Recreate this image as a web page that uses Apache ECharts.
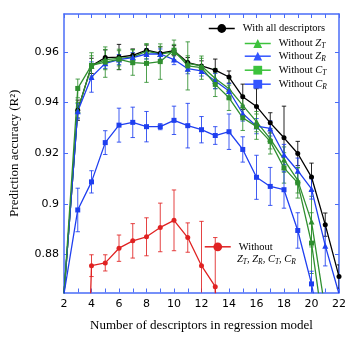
<!DOCTYPE html>
<html><head><meta charset="utf-8">
<script src="https://cdn.jsdelivr.net/npm/echarts@6/dist/echarts.min.js"></script>
<style>html,body{margin:0;padding:0;background:#fff}#c{width:349px;height:342px}</style>
</head><body><div id="c"></div>
<script>
// ---- data ----
const nDesc = [2,3,4,5,6,7,8,9,10,11,12,13,14,15,16,17,18,19,20,21,22];
const allVals = [0.8645,0.937,0.9545,0.9578,0.958,0.9587,0.9607,0.9595,0.9605,0.9558,0.9545,0.9528,0.9501,0.9423,0.9385,0.932,0.9261,0.9199,0.9106,0.8918,0.8713];
const allErr  = [0,0.004,0.003,0.003,0.005,0.0025,0.002,0.0025,0.002,0.002,0.002,0.0044,0.0024,0.005,0.007,0.004,0.0125,0.0048,0.0055,0.0046,0.0046];

const nZT = [2,3,4,5,6,7,8,9,10,11,12,13,14,15,16,17,18,19,20,21];
const ztVals = [0.8645,0.937,0.9545,0.957,0.9575,0.958,0.9603,0.9592,0.96,0.9555,0.9545,0.9495,0.9455,0.9389,0.9325,0.9257,0.9175,0.9093,0.893,0.858];
const ztErr  = [0,0.003,0.004,0.004,0.003,0.003,0.003,0.003,0.003,0.003,0.003,0.004,0.004,0.004,0.004,0.004,0.005,0.005,0.010,0.006];

const nZR = [2,3,4,5,6,7,8,9,10,11,12,13,14,15,16,17,18,19,20,21,22];
const zrVals = [0.8645,0.9366,0.9501,0.9555,0.957,0.9578,0.9592,0.9592,0.957,0.9534,0.9525,0.9485,0.9446,0.9357,0.9307,0.9298,0.9195,0.9131,0.9059,0.8835,0.8645];
const zrErr  = [0,0.003,0.006,0.002,0.002,0.002,0.002,0.002,0.002,0.002,0.002,0.003,0.003,0.003,0.003,0.003,0.004,0.005,0.004,0.008,0];

const nCT = [2,3,4,5,6,7,8,9,10,11,12,13,14,15,16,17,18,19,20,21];
const ctVals = [0.8645,0.9456,0.9547,0.956,0.9571,0.9558,0.9555,0.9562,0.9607,0.9545,0.9538,0.9472,0.9419,0.934,0.9305,0.9247,0.9142,0.9083,0.8845,0.8455];
const ctErr  = [0,0.0037,0.005,0.006,0.004,0.005,0.0075,0.007,0.004,0.0095,0.0046,0.0048,0.005,0.005,0.005,0.005,0.006,0.006,0.012,0.006];

const nCR = [2,3,4,5,6,7,8,9,10,11,12,13,14,15,16,17,18,19,20,21];
const crVals = [0.8645,0.8976,0.9087,0.9242,0.9311,0.9322,0.9305,0.9305,0.933,0.9309,0.9293,0.927,0.9285,0.9215,0.9105,0.9069,0.9056,0.8895,0.8684,0.84];
const crErr  = [0,0.0086,0.0044,0.0047,0.0067,0.006,0.006,0.0012,0.0056,0.0088,0.0052,0.0035,0.007,0.005,0.0087,0.0075,0.0073,0.007,0.005,0];

const nNone = [3,4,5,6,7,8,9,10,11,12,13,14];
const noneVals = [0.70,0.8756,0.8767,0.8825,0.8854,0.887,0.8907,0.8935,0.8867,0.8756,0.8673,0.70];
const noneErr  = [0,0.0043,0.0032,0.0052,0.0068,0.0075,0.0096,0.012,0.0058,0.0175,0.0194,0];

const yTicks = [0.88,0.9,0.92,0.94,0.96];
const xTitle = 'Number of descriptors in regression model';
const yTitle = 'Prediction accuracy (R\u00B2)';

// ---- styling ----
const AX = '#4a6cf7';
const BLACK = '#000000', GREEN = '#2f8f2f', BLUE = '#1f3ff0', RED = '#e02222';
const LGREEN = '#3cc23c', LBLUE = '#3355ff';
const SERIF = 'Liberation Serif';

const names = ['With all descriptors','Without ZT','Without ZR','Without CT','Without CR','Without all'];
const legendText = {
  'With all descriptors': '{p|With all descriptors}',
  'Without ZT': '{p|Without }{i|Z}{s|T}',
  'Without ZR': '{p|Without }{i|Z}{s|R}',
  'Without CT': '{p|Without }{i|C}{s|T}',
  'Without CR': '{p|Without }{i|C}{s|R}',
  'Without all': '{p|Without}'
};
const rich = {
  p: {fontFamily: SERIF, fontSize: 10.5, color: '#000', lineHeight: 14, padding: [0,0,0,3]},
  n: {fontFamily: SERIF, fontSize: 10.5, color: '#000', lineHeight: 14},
  i: {fontFamily: SERIF, fontSize: 10.5, fontStyle: 'italic', color: '#000', lineHeight: 14},
  s: {fontFamily: SERIF, fontSize: 7.5, fontStyle: 'italic', color: '#000', lineHeight: 8, verticalAlign: 'bottom'}
};

function pairs(xs, vs) { return xs.map((x, i) => [x, vs[i]]); }
function lineSeries(name, xs, vs, color, symbol, size) {
  return {
    type: 'line', name: name, data: pairs(xs, vs), symbol: symbol, symbolSize: size,
    itemStyle: {color: color}, lineStyle: {color: color, width: 1.3}, clip: true, z: 3,
    animation: false
  };
}
function errSeries(xs, vs, es, color) {
  const data = [];
  xs.forEach((x, i) => { if (es[i] > 0) data.push([x, vs[i] - es[i], vs[i] + es[i]]); });
  return {
    type: 'custom', data: data, clip: true, z: 2, animation: false, silent: true,
    encode: {x: 0, y: [1, 2]},
    renderItem: function (params, api) {
      const p1 = api.coord([api.value(0), api.value(1)]);
      const p2 = api.coord([api.value(0), api.value(2)]);
      const w = 2.2;
      const st = {stroke: color, lineWidth: 1, opacity: 0.85};
      return {type: 'group', children: [
        {type: 'line', shape: {x1: p1[0], y1: p1[1], x2: p2[0], y2: p2[1]}, style: st},
        {type: 'line', shape: {x1: p1[0]-w, y1: p1[1], x2: p1[0]+w, y2: p1[1]}, style: st},
        {type: 'line', shape: {x1: p2[0]-w, y1: p2[1], x2: p2[0]+w, y2: p2[1]}, style: st}
      ]};
    }
  };
}

function legendAt(name, left, top, color) {
  return {
    data: [{name: name, itemStyle: {color: color}, lineStyle: {color: color, width: 1.5}}],
    left: left, top: top, padding: 0, itemWidth: 26, itemHeight: 11,
    selectedMode: false, formatter: n => legendText[n],
    textStyle: {rich: rich}
  };
}

const axisLine = {show: true, lineStyle: {color: AX, width: 1.5}};
const chart = echarts.init(document.getElementById('c'), null, {renderer: 'canvas'});
chart.setOption({
  animation: false,
  backgroundColor: '#fff',
  grid: {left: 61, right: 10, top: 14, bottom: 49.5},
  xAxis: [
    {type: 'value', min: 2, max: 22, interval: 2, position: 'bottom',
     axisLine: axisLine, splitLine: {show: false},
     axisTick: {show: true, inside: true, length: 4, lineStyle: {color: AX, width: 1}},
     minorTick: {show: true, splitNumber: 2, length: 4, lineStyle: {color: AX, width: 1}},
     axisLabel: {color: '#000', fontFamily: 'DejaVu Sans', fontSize: 11, margin: 6},
     name: xTitle, nameLocation: 'middle', nameGap: 27,
     nameTextStyle: {fontFamily: SERIF, fontSize: 13, color: '#000'}},
    {type: 'value', min: 2, max: 22, interval: 2, position: 'top',
     axisLine: axisLine, splitLine: {show: false},
     axisTick: {show: true, inside: true, length: 4, lineStyle: {color: AX, width: 1}},
     minorTick: {show: true, splitNumber: 2, length: 4, lineStyle: {color: AX, width: 1}},
     axisLabel: {show: false}}
  ],
  yAxis: [
    {type: 'value', min: 0.865, max: 0.975, position: 'left',
     axisLine: axisLine, splitLine: {show: false},
     axisTick: {show: true, inside: true, length: 4, customValues: yTicks, lineStyle: {color: AX, width: 1}},
     axisLabel: {customValues: yTicks, color: '#000', fontFamily: 'DejaVu Sans', fontSize: 11, margin: 5,
                 formatter: v => String(parseFloat(Number(v).toFixed(3)))},
     name: yTitle, nameLocation: 'middle', nameGap: 43, nameRotate: 90,
     nameTextStyle: {fontFamily: SERIF, fontSize: 13, color: '#000'}},
    {type: 'value', min: 0.865, max: 0.975, position: 'right',
     axisLine: axisLine, splitLine: {show: false},
     axisTick: {show: true, inside: true, length: 4, customValues: yTicks, lineStyle: {color: AX, width: 1}},
     axisLabel: {show: false}}
  ],
  legend: [
    legendAt('With all descriptors', 208, 23, BLACK),
    legendAt('Without ZT', 244, 38, LGREEN),
    legendAt('Without ZR', 244, 50.7, LBLUE),
    legendAt('Without CT', 244, 64.7, LGREEN),
    legendAt('Without CR', 244, 78.7, LBLUE),
    legendAt('Without all', 204, 241.3, RED)
  ],
  graphic: [
    {type: 'text', left: 237, top: 254, silent: true,
     style: {text: '{i|Z}{s|T}{n|, }{i|Z}{s|R}{n|, }{i|C}{s|T}{n|, }{i|C}{s|R}', rich: rich}}
  ],
  series: [
    errSeries(nDesc, allVals, allErr, BLACK),
    errSeries(nZT, ztVals, ztErr, GREEN),
    errSeries(nZR, zrVals, zrErr, BLUE),
    errSeries(nCT, ctVals, ctErr, GREEN),
    errSeries(nCR, crVals, crErr, BLUE),
    errSeries(nNone, noneVals, noneErr, RED),
    lineSeries(names[0], nDesc, allVals, BLACK, 'circle', 5),
    lineSeries(names[1], nZT, ztVals, GREEN, 'triangle', 6),
    lineSeries(names[2], nZR, zrVals, BLUE, 'triangle', 6),
    lineSeries(names[3], nCT, ctVals, GREEN, 'rect', 5),
    lineSeries(names[4], nCR, crVals, BLUE, 'rect', 5),
    lineSeries(names[5], nNone, noneVals, RED, 'circle', 5)
  ]
});
</script>
</body></html>
